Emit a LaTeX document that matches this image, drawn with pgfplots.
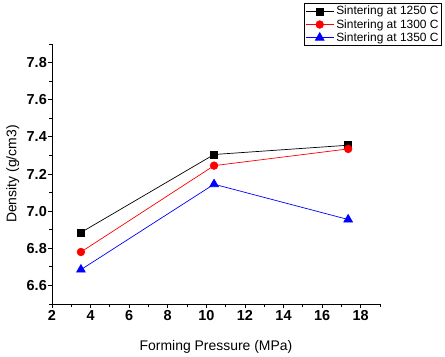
\documentclass[border=0pt]{standalone}
\usepackage{pgfplots}
\pgfplotsset{compat=1.18}
\usepackage{fontspec}
\setmainfont{Liberation Sans}
\begin{document}
\begin{tikzpicture}
\begin{axis}[
  scale only axis,
  width=328bp, height=260bp,
  xmin=2, xmax=19, ymin=6.5, ymax=7.9,
  axis lines=left,
  axis line style={-, line width=0.8bp},
  xtick={2,4,...,18}, ytick={6.6,6.8,...,7.8},
  minor xtick={3,5,...,19}, minor ytick={6.5,6.7,...,7.9},
  tick align=outside,
  major tick length=4bp, minor tick length=2.5bp,
  tick style={black, line width=0.8bp},
  /pgf/number format/assume math mode=true,
  xticklabel style={font=\fontsize{14.5}{16}\selectfont\bfseries, inner sep=2bp},
  yticklabel style={font=\fontsize{14.5}{16}\selectfont\bfseries, inner sep=1bp, /pgf/number format/.cd, fixed, fixed zerofill, precision=1},
  xlabel={Forming Pressure (MPa)},
  ylabel={Density (g/cm3)},
  label style={font=\fontsize{14}{16}\selectfont},
  xlabel style={yshift=-14bp},
  ylabel style={yshift=3bp},
  legend style={at={(rel axis cs:1.189,1.158)}, anchor=north east, font=\fontsize{12}{13.3}\selectfont, draw=black, line width=0.8bp, inner sep=1bp, row sep=-1bp},
  legend cell align=left,
  legend image code/.code={\draw[mark repeat=2,mark phase=2] plot coordinates {(0cm,0cm) (0.5cm,0cm) (1cm,0cm)};},
  every axis plot/.append style={line width=0.7bp},
]
\addplot[black, mark=square*, mark size=3.5bp, mark options={solid}] coordinates {(3.5,6.885) (10.4,7.305) (17.35,7.355)};
\addlegendentry{Sintering at 1250 C}
\addplot[red, mark=*, mark size=3.8bp] coordinates {(3.5,6.78) (10.4,7.245) (17.35,7.335)};
\addlegendentry{Sintering at 1300 C}
\addplot[blue, mark=triangle*, mark size=5bp] coordinates {(3.5,6.685) (10.4,7.145) (17.35,6.955)};
\addlegendentry{Sintering at 1350 C}
\end{axis}
\pgfresetboundingbox
\path (-52bp,-53bp) rectangle (393bp,304bp);
\end{tikzpicture}
\end{document}
